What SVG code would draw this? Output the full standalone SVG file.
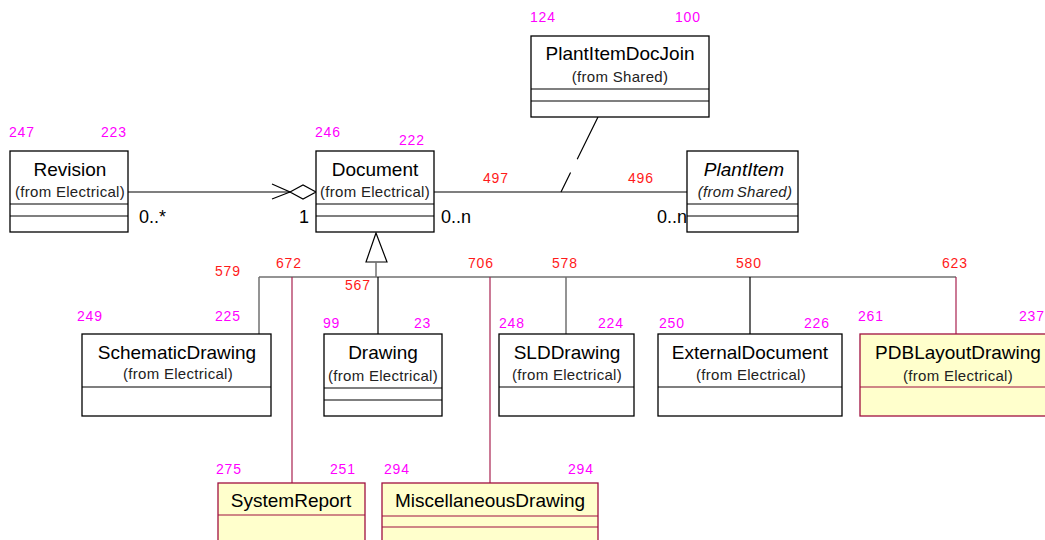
<svg xmlns="http://www.w3.org/2000/svg" width="1045" height="540" viewBox="0 0 1045 540">
<style>
.box{fill:#fff;stroke:#000;stroke-width:1.3}
.ybox{fill:#ffffcc;stroke:#a0103f;stroke-width:1.3}
.sep{stroke:#000;stroke-width:1.2}
.ysep{stroke:#a0103f;stroke-width:1.2}
.t{font-family:"Liberation Sans",Arial,sans-serif;font-size:19px;fill:#000;text-anchor:middle}
.s{font-family:"Liberation Sans",Arial,sans-serif;font-size:15px;letter-spacing:0.3px;fill:#222;text-anchor:middle}
.it{font-style:italic}
.m{font-family:"Liberation Sans",Arial,sans-serif;font-size:14px;letter-spacing:0.8px;fill:#ff00ff}
.r{font-family:"Liberation Sans",Arial,sans-serif;font-size:14px;letter-spacing:0.8px;fill:#ff1a1a}
.mul{font-family:"Liberation Sans",Arial,sans-serif;font-size:18px;fill:#000}
.ln{stroke:#000;stroke-width:1.2;fill:none}
.gl{stroke:#707070;stroke-width:1.5;fill:none}
.ml{stroke:#a8204f;stroke-width:1.2;fill:none}
</style>
<g id="connectors">
<line class="ln" x1="128" y1="192" x2="290" y2="192"/>
<polygon points="290,192 303,185 316,192 303,199" fill="#fff" stroke="#000" stroke-width="1.2"/>
<polyline class="ln" points="272,184 290,192 272,199"/>
<line class="ln" x1="434" y1="192" x2="687" y2="192"/>
<line class="ln" x1="598" y1="117" x2="561" y2="192" stroke-dasharray="47 15 40"/>
<polygon points="376,233 366,262 387,262" fill="#fff" stroke="#000" stroke-width="1.2"/>
<line class="gl" x1="376" y1="262" x2="376" y2="277"/>
<line class="gl" x1="259" y1="277" x2="956" y2="277"/>
<line class="gl" x1="259" y1="277" x2="259" y2="334"/>
<line class="ln" x1="378" y1="277" x2="378" y2="334"/>
<line class="gl" x1="566" y1="277" x2="566" y2="334"/>
<line class="ln" x1="750" y1="277" x2="750" y2="334"/>
<line class="ml" x1="956" y1="277" x2="956" y2="334"/>
<line class="ml" x1="292" y1="277" x2="292" y2="483"/>
<line class="ml" x1="490" y1="277" x2="490" y2="483"/>
<text class="mul" x="139" y="223">0..*</text>
<text class="mul" x="299" y="223">1</text>
<text class="mul" x="441" y="223">0..n</text>
<text class="mul" x="657" y="223">0..n</text>
<text class="r" x="483" y="183">497</text>
<text class="r" x="628" y="183">496</text>
<text class="r" x="215" y="276">579</text>
<text class="r" x="276" y="268">672</text>
<text class="r" x="345" y="290">567</text>
<text class="r" x="468" y="268">706</text>
<text class="r" x="552" y="268">578</text>
<text class="r" x="736" y="268">580</text>
<text class="r" x="942" y="268">623</text>
</g>
<g id="Revision">
<rect class="box" x="10" y="151" width="118" height="81"/>
<line class="sep" x1="10" y1="204" x2="128" y2="204"/>
<line class="sep" x1="10" y1="216" x2="128" y2="216"/>
<text class="t" x="70" y="176">Revision</text>
<text class="s" x="70" y="197">(from Electrical)</text>
<text class="m" x="9" y="137">247</text>
<text class="m" x="101" y="137">223</text>
</g>
<g id="Document">
<rect class="box" x="316" y="151" width="118" height="81"/>
<line class="sep" x1="316" y1="204" x2="434" y2="204"/>
<line class="sep" x1="316" y1="216" x2="434" y2="216"/>
<text class="t" x="375" y="176">Document</text>
<text class="s" x="375" y="197">(from Electrical)</text>
<text class="m" x="315" y="137">246</text>
<text class="m" x="399" y="145">222</text>
</g>
<g id="PlantItemDocJoin">
<rect class="box" x="531" y="36" width="178" height="81"/>
<line class="sep" x1="531" y1="89" x2="709" y2="89"/>
<line class="sep" x1="531" y1="101" x2="709" y2="101"/>
<text class="t" x="620" y="60">PlantItemDocJoin</text>
<text class="s" x="620" y="82">(from Shared)</text>
<text class="m" x="530" y="22">124</text>
<text class="m" x="675" y="22">100</text>
</g>
<g id="PlantItem">
<rect class="box" x="687" y="151" width="111" height="81"/>
<line class="sep" x1="687" y1="204" x2="798" y2="204"/>
<line class="sep" x1="687" y1="216" x2="798" y2="216"/>
<text class="t it" x="744" y="176">PlantItem</text>
<text class="s it" x="745" y="197" letter-spacing="0" word-spacing="-2">(from Shared)</text>
</g>
<g id="SchematicDrawing">
<rect class="box" x="82" y="334" width="189" height="82"/>
<line class="sep" x1="82" y1="387" x2="271" y2="387"/>
<text class="t" x="177" y="359">SchematicDrawing</text>
<text class="s" x="178" y="379">(from Electrical)</text>
<text class="m" x="77" y="321">249</text>
<text class="m" x="215" y="321">225</text>
</g>
<g id="Drawing">
<rect class="box" x="324" y="334" width="118" height="82"/>
<line class="sep" x1="324" y1="388" x2="442" y2="388"/>
<line class="sep" x1="324" y1="400" x2="442" y2="400"/>
<text class="t" x="383" y="359">Drawing</text>
<text class="s" x="383" y="381">(from Electrical)</text>
<text class="m" x="323" y="328">99</text>
<text class="m" x="414" y="328">23</text>
</g>
<g id="SLDDrawing">
<rect class="box" x="499" y="334" width="135" height="82"/>
<line class="sep" x1="499" y1="387" x2="634" y2="387"/>
<text class="t" x="567" y="359">SLDDrawing</text>
<text class="s" x="567" y="380">(from Electrical)</text>
<text class="m" x="499" y="328">248</text>
<text class="m" x="598" y="328">224</text>
</g>
<g id="ExternalDocument">
<rect class="box" x="658" y="334" width="184" height="82"/>
<line class="sep" x1="658" y1="387" x2="842" y2="387"/>
<text class="t" x="750" y="359">ExternalDocument</text>
<text class="s" x="751" y="380">(from Electrical)</text>
<text class="m" x="659" y="328">250</text>
<text class="m" x="804" y="328">226</text>
</g>
<g id="PDBLayoutDrawing">
<rect class="ybox" x="860" y="334" width="196" height="82"/>
<line class="ysep" x1="860" y1="387" x2="1056" y2="387"/>
<text class="t" x="958" y="359">PDBLayoutDrawing</text>
<text class="s" x="958" y="381">(from Electrical)</text>
<text class="m" x="858" y="321">261</text>
<text class="m" x="1019" y="321">237</text>
</g>
<g id="SystemReport">
<rect class="ybox" x="218" y="483" width="147" height="70"/>
<line class="ysep" x1="218" y1="515" x2="365" y2="515"/>
<text class="t" x="291" y="507">SystemReport</text>
<text class="m" x="216" y="474">275</text>
<text class="m" x="330" y="474">251</text>
</g>
<g id="MiscellaneousDrawing">
<rect class="ybox" x="382" y="483" width="216" height="70"/>
<line class="ysep" x1="382" y1="516" x2="598" y2="516"/>
<line class="ysep" x1="382" y1="527" x2="598" y2="527"/>
<text class="t" x="490" y="507">MiscellaneousDrawing</text>
<text class="m" x="384" y="474">294</text>
<text class="m" x="568" y="474">294</text>
</g>
</svg>
